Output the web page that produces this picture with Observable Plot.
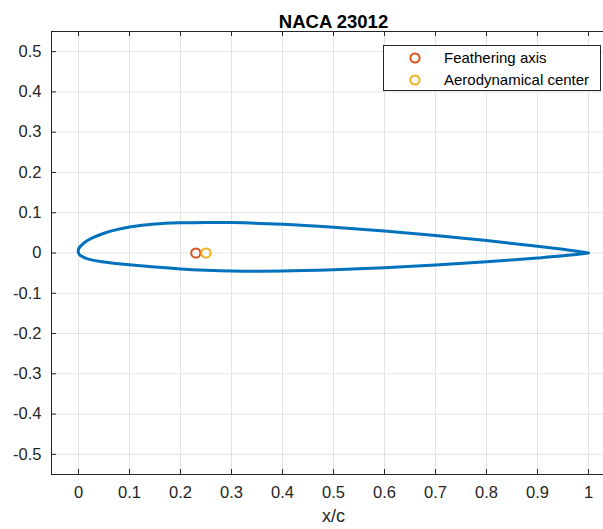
<!DOCTYPE html>
<html><head><meta charset="utf-8">
<script src="https://cdn.jsdelivr.net/npm/d3@7"></script>
<script src="https://cdn.jsdelivr.net/npm/@observablehq/plot@0.6"></script>
<style>
html,body{margin:0;padding:0;overflow:hidden;background:#fff;width:603px;height:529px}
#wrap{position:relative;width:603px;height:529px;overflow:hidden}
#wrap svg.chart{position:absolute;left:0;top:0;max-width:none !important;width:620px !important;height:529px !important}
#legend{position:absolute;left:383px;top:45px;width:216px;height:44px;border:1px solid #262626;background:#fff;font:15px "Liberation Sans",Arial,sans-serif;color:#000}
#legend .row{position:absolute;left:0;height:20px;line-height:20px;white-space:nowrap}
#legend .row svg{position:absolute;left:24px;top:3px}
#legend .row span{position:absolute;left:60px;top:0}
</style></head>
<body><div id="wrap"></div>
<script>
// ---- data ----
const title = "NACA 23012";
const xLabel = "x/c";
const xTicks = [0, 0.1, 0.2, 0.3, 0.4, 0.5, 0.6, 0.7, 0.8, 0.9, 1];
const yTicks = [-0.5, -0.4, -0.3, -0.2, -0.1, 0, 0.1, 0.2, 0.3, 0.4, 0.5];
const xDomain = [-0.053, 1.053];
const yDomain = [-0.55, 0.55];
// airfoil contour: upper surface from trailing edge to leading edge
const xUpper = [1.0, 0.95, 0.90, 0.80, 0.70, 0.60, 0.50, 0.40, 0.30, 0.25, 0.20, 0.15, 0.10, 0.075, 0.05, 0.025, 0.0125, 0.005, 0.0015, -0.0005, -0.0006, 0];
const yUpper = [0, 0.0092, 0.0168, 0.0308, 0.0436, 0.0547, 0.0641, 0.0714, 0.0755, 0.0760, 0.0750, 0.0719, 0.0643, 0.0580, 0.0491, 0.0361, 0.0267, 0.0182, 0.0133, 0.0063, 0.0031, 0];
// lower surface from leading edge to trailing edge
const xLower = [0.003, 0.005, 0.0125, 0.025, 0.05, 0.075, 0.10, 0.15, 0.20, 0.25, 0.30, 0.40, 0.50, 0.60, 0.70, 0.80, 0.90, 0.95, 1.0];
const yLower = [-0.0055, -0.0072, -0.0123, -0.0171, -0.0226, -0.0261, -0.0292, -0.0350, -0.0397, -0.0428, -0.0446, -0.0448, -0.0417, -0.0367, -0.0300, -0.0216, -0.0123, -0.0070, 0];
const featherName = "Feathering axis";
const featherX = [0.23], featherY = [0];
const aeroName = "Aerodynamical center";
const aeroX = [0.25], aeroY = [0];

const profile = [
  ...xUpper.map((x, i) => ({x, y: yUpper[i]})),
  ...xLower.map((x, i) => ({x, y: yLower[i]}))
];
const feather = featherX.map((x, i) => ({x, y: featherY[i]}));
const aero = aeroX.map((x, i) => ({x, y: aeroY[i]}));

const BLUE = "#0072BD", RED = "#D95319", YEL = "#EDB120", INK = "#262626", GRID = "#e3e3e3";
const W = 620, H = 529, ML = 51, MR = 5, MT = 31, MB = 55;
const PW = W - ML - MR, PH = H - MT - MB, TICK = 5;
const fmt = d => String(d);

const chart = Plot.plot({
  width: W, height: H,
  marginLeft: ML, marginRight: MR, marginTop: MT, marginBottom: MB,
  x: {domain: xDomain},
  y: {domain: yDomain},
  style: {fontFamily: "'Liberation Sans', Arial, sans-serif", color: INK, background: "#fff", maxWidth: "none"},
  marks: [
    Plot.gridX(xTicks, {stroke: GRID, strokeOpacity: 1}),
    Plot.gridY(yTicks, {stroke: GRID, strokeOpacity: 1}),
    Plot.line(profile, {x: "x", y: "y", stroke: BLUE, strokeWidth: 3, curve: "catmull-rom", strokeLinejoin: "round"}),
    Plot.dot(feather, {x: "x", y: "y", r: 4.6, stroke: RED, strokeWidth: 2, fill: "none"}),
    Plot.dot(aero, {x: "x", y: "y", r: 4.6, stroke: YEL, strokeWidth: 2, fill: "none"}),
    Plot.tickX(xTicks, {x: d => d, insetTop: PH - TICK, stroke: INK}),
    Plot.tickX(xTicks, {x: d => d, insetBottom: PH - TICK, stroke: INK}),
    Plot.tickY(yTicks, {y: d => d, insetRight: PW - TICK, stroke: INK}),
    Plot.tickY(yTicks, {y: d => d, insetLeft: PW - TICK, stroke: INK}),
    Plot.frame({stroke: INK, strokeWidth: 1}),
    Plot.axisX(xTicks, {tickSize: 0, tickPadding: 12, fontSize: 16.5, label: null, tickFormat: fmt}),
    Plot.axisY(yTicks, {tickSize: 0, tickPadding: 10, fontSize: 16.5, label: null, tickFormat: fmt}),
    Plot.text([title], {frameAnchor: "top", dy: -17, fontWeight: "bold", fontSize: 18.5, fill: "#000"}),
    Plot.text([xLabel], {frameAnchor: "bottom", dy: 47, fontSize: 18, fill: INK})
  ]
});
chart.classList.add("chart");
const wrap = document.getElementById("wrap");
wrap.appendChild(chart);

// legend
const legend = document.createElement("div");
legend.id = "legend";
[[featherName, RED, 2], [aeroName, YEL, 24]].forEach(([name, col, top]) => {
  const row = document.createElement("div");
  row.className = "row";
  row.style.top = top + "px";
  row.innerHTML = `<svg width="14" height="14"><circle cx="7" cy="7" r="4.6" fill="none" stroke="${col}" stroke-width="2"/></svg><span>${name}</span>`;
  legend.appendChild(row);
});
wrap.appendChild(legend);
</script>
</body></html>
